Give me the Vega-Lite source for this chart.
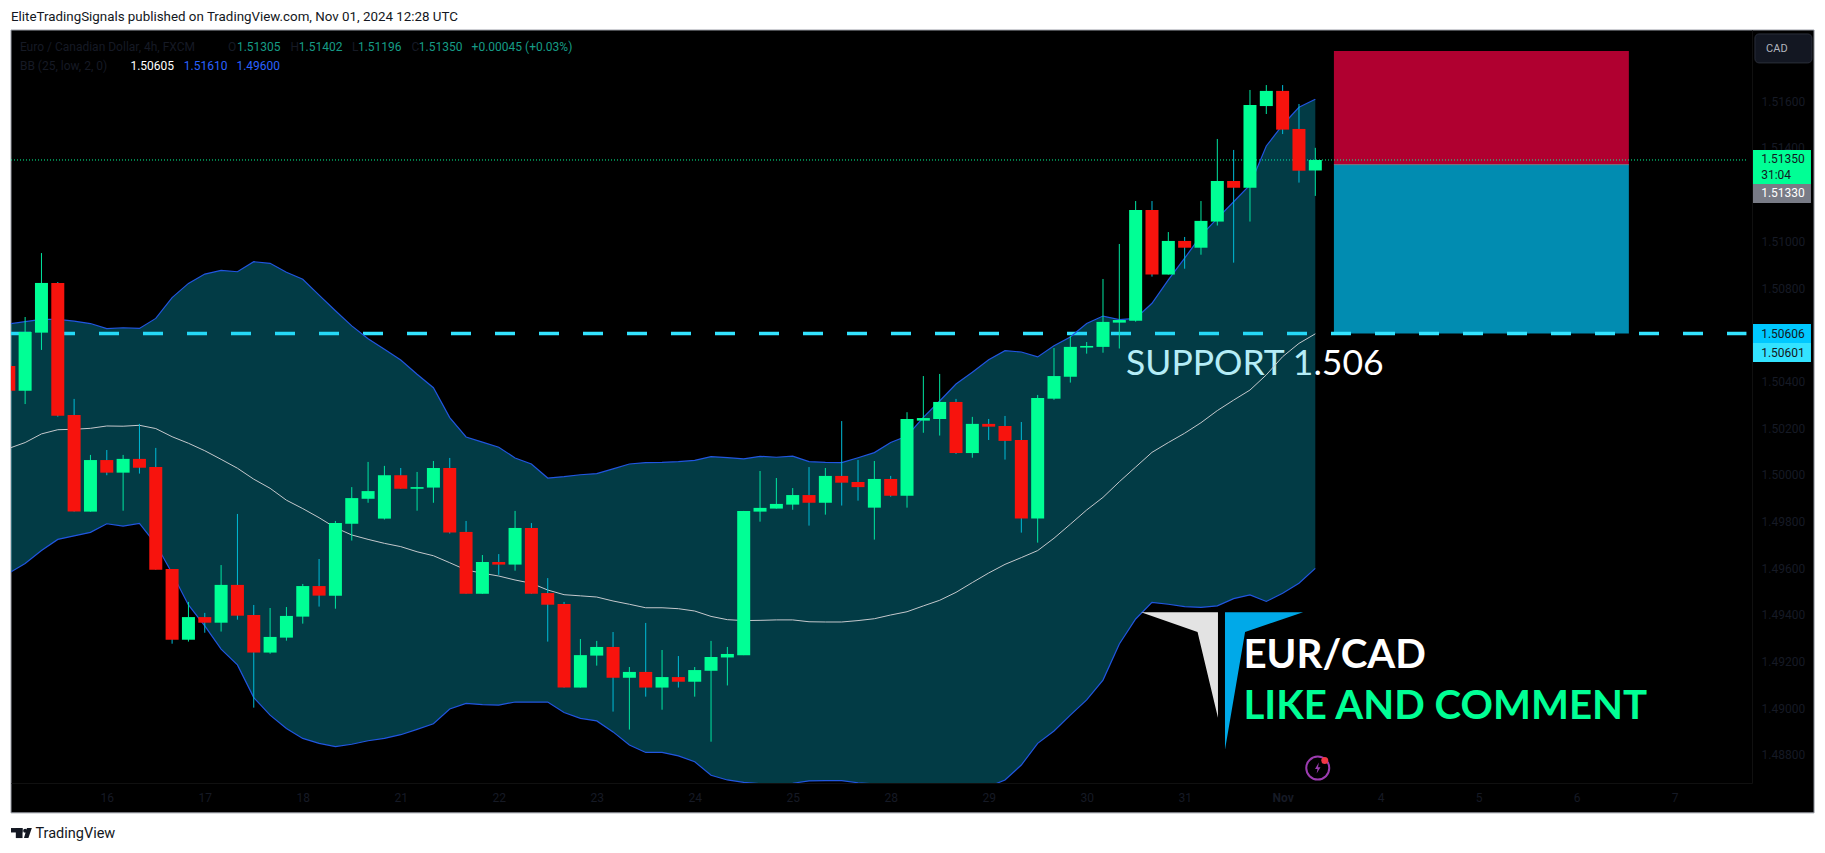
{"$schema":"https://vega.github.io/schema/vega-lite/v6.json","width":1741,"height":753,"autosize":{"type":"none"},"padding":{"left":11,"top":30,"right":73,"bottom":70},"background":"#ffffff","config":{"view":{"stroke":null},"axis":{"title":null,"grid":false,"ticks":false,"domain":true,"domainColor":"#101010","labelColor":"#161a25","labelFont":"Roboto","labelFontSize":12,"labelPadding":9,"labelFlush":false,"labelOverlap":false,"labelBound":false}},
"datasets":{"candles":[
{"i":0,"open":1.50467,"close":1.50361,"high":1.50467,"low":1.50361,"dir":"down","upper":1.50647,"basis":1.50114,"lower":1.49579},
{"i":1,"open":1.50361,"close":1.50613,"high":1.50677,"low":1.50304,"dir":"up","upper":1.50657,"basis":1.50139,"lower":1.49621},
{"i":2,"open":1.50610,"close":1.50823,"high":1.50951,"low":1.50536,"dir":"up","upper":1.50667,"basis":1.50176,"lower":1.49676},
{"i":3,"open":1.50823,"close":1.50254,"high":1.50827,"low":1.50250,"dir":"down","upper":1.50667,"basis":1.50194,"lower":1.49724},
{"i":4,"open":1.50257,"close":1.49843,"high":1.50326,"low":1.49843,"dir":"down","upper":1.50659,"basis":1.50196,"lower":1.49739},
{"i":5,"open":1.49843,"close":1.50064,"high":1.50086,"low":1.49843,"dir":"up","upper":1.50649,"basis":1.50200,"lower":1.49754},
{"i":6,"open":1.50064,"close":1.50010,"high":1.50107,"low":1.49999,"dir":"down","upper":1.50627,"basis":1.50210,"lower":1.49791},
{"i":7,"open":1.50010,"close":1.50069,"high":1.50086,"low":1.49847,"dir":"up","upper":1.50631,"basis":1.50209,"lower":1.49781},
{"i":8,"open":1.50069,"close":1.50031,"high":1.50219,"low":1.50006,"dir":"down","upper":1.50628,"basis":1.50213,"lower":1.49793},
{"i":9,"open":1.50034,"close":1.49594,"high":1.50116,"low":1.49594,"dir":"down","upper":1.50671,"basis":1.50199,"lower":1.49704},
{"i":10,"open":1.49597,"close":1.49294,"high":1.49597,"low":1.49277,"dir":"down","upper":1.50760,"basis":1.50164,"lower":1.49579},
{"i":11,"open":1.49294,"close":1.49391,"high":1.49456,"low":1.49286,"dir":"up","upper":1.50821,"basis":1.50136,"lower":1.49443},
{"i":12,"open":1.49391,"close":1.49367,"high":1.49409,"low":1.49324,"dir":"down","upper":1.50861,"basis":1.50104,"lower":1.49353},
{"i":13,"open":1.49367,"close":1.49529,"high":1.49614,"low":1.49329,"dir":"up","upper":1.50877,"basis":1.50067,"lower":1.49254},
{"i":14,"open":1.49529,"close":1.49397,"high":1.49833,"low":1.49380,"dir":"down","upper":1.50871,"basis":1.50029,"lower":1.49186},
{"i":15,"open":1.49400,"close":1.49239,"high":1.49443,"low":1.49003,"dir":"down","upper":1.50914,"basis":1.49982,"lower":1.49046},
{"i":16,"open":1.49239,"close":1.49306,"high":1.49430,"low":1.49234,"dir":"up","upper":1.50907,"basis":1.49943,"lower":1.48971},
{"i":17,"open":1.49303,"close":1.49396,"high":1.49434,"low":1.49290,"dir":"up","upper":1.50869,"basis":1.49892,"lower":1.48914},
{"i":18,"open":1.49393,"close":1.49524,"high":1.49533,"low":1.49363,"dir":"up","upper":1.50839,"basis":1.49856,"lower":1.48871},
{"i":19,"open":1.49524,"close":1.49483,"high":1.49640,"low":1.49436,"dir":"down","upper":1.50771,"basis":1.49817,"lower":1.48850},
{"i":20,"open":1.49483,"close":1.49794,"high":1.49803,"low":1.49427,"dir":"up","upper":1.50704,"basis":1.49774,"lower":1.48836},
{"i":21,"open":1.49791,"close":1.49901,"high":1.49948,"low":1.49719,"dir":"up","upper":1.50639,"basis":1.49743,"lower":1.48846},
{"i":22,"open":1.49898,"close":1.49931,"high":1.50056,"low":1.49881,"dir":"up","upper":1.50584,"basis":1.49724,"lower":1.48861},
{"i":23,"open":1.49813,"close":1.49999,"high":1.50039,"low":1.49809,"dir":"up","upper":1.50539,"basis":1.49707,"lower":1.48871},
{"i":24,"open":1.49999,"close":1.49941,"high":1.50030,"low":1.49941,"dir":"down","upper":1.50493,"basis":1.49693,"lower":1.48887},
{"i":25,"open":1.49941,"close":1.49948,"high":1.50013,"low":1.49847,"dir":"up","upper":1.50432,"basis":1.49671,"lower":1.48910},
{"i":26,"open":1.49946,"close":1.50030,"high":1.50060,"low":1.49881,"dir":"up","upper":1.50374,"basis":1.49654,"lower":1.48934},
{"i":27,"open":1.50030,"close":1.49753,"high":1.50073,"low":1.49749,"dir":"down","upper":1.50246,"basis":1.49624,"lower":1.48997},
{"i":28,"open":1.49756,"close":1.49491,"high":1.49803,"low":1.49491,"dir":"down","upper":1.50163,"basis":1.49593,"lower":1.49021},
{"i":29,"open":1.49491,"close":1.49627,"high":1.49657,"low":1.49491,"dir":"up","upper":1.50141,"basis":1.49579,"lower":1.49016},
{"i":30,"open":1.49627,"close":1.49616,"high":1.49661,"low":1.49572,"dir":"down","upper":1.50119,"basis":1.49567,"lower":1.49014},
{"i":31,"open":1.49616,"close":1.49773,"high":1.49846,"low":1.49590,"dir":"up","upper":1.50073,"basis":1.49550,"lower":1.49027},
{"i":32,"open":1.49773,"close":1.49491,"high":1.49794,"low":1.49491,"dir":"down","upper":1.50047,"basis":1.49536,"lower":1.49027},
{"i":33,"open":1.49494,"close":1.49444,"high":1.49558,"low":1.49286,"dir":"down","upper":1.49987,"basis":1.49507,"lower":1.49027},
{"i":34,"open":1.49447,"close":1.49089,"high":1.49456,"low":1.49089,"dir":"down","upper":1.49993,"basis":1.49487,"lower":1.48982},
{"i":35,"open":1.49089,"close":1.49228,"high":1.49297,"low":1.49089,"dir":"up","upper":1.50001,"basis":1.49482,"lower":1.48957},
{"i":36,"open":1.49226,"close":1.49263,"high":1.49289,"low":1.49183,"dir":"up","upper":1.50006,"basis":1.49477,"lower":1.48946},
{"i":37,"open":1.49263,"close":1.49131,"high":1.49327,"low":1.48986,"dir":"down","upper":1.50026,"basis":1.49460,"lower":1.48899},
{"i":38,"open":1.49131,"close":1.49156,"high":1.49177,"low":1.48909,"dir":"up","upper":1.50047,"basis":1.49446,"lower":1.48843},
{"i":39,"open":1.49156,"close":1.49089,"high":1.49366,"low":1.49050,"dir":"down","upper":1.50053,"basis":1.49431,"lower":1.48811},
{"i":40,"open":1.49089,"close":1.49134,"high":1.49250,"low":1.48994,"dir":"up","upper":1.50054,"basis":1.49431,"lower":1.48811},
{"i":41,"open":1.49134,"close":1.49114,"high":1.49224,"low":1.49089,"dir":"down","upper":1.50057,"basis":1.49427,"lower":1.48796},
{"i":42,"open":1.49114,"close":1.49164,"high":1.49177,"low":1.49050,"dir":"up","upper":1.50063,"basis":1.49417,"lower":1.48771},
{"i":43,"open":1.49161,"close":1.49220,"high":1.49289,"low":1.48857,"dir":"up","upper":1.50079,"basis":1.49394,"lower":1.48713},
{"i":44,"open":1.49218,"close":1.49233,"high":1.49263,"low":1.49098,"dir":"up","upper":1.50074,"basis":1.49380,"lower":1.48693},
{"i":45,"open":1.49228,"close":1.49846,"high":1.49846,"low":1.49228,"dir":"up","upper":1.50069,"basis":1.49376,"lower":1.48683},
{"i":46,"open":1.49843,"close":1.49859,"high":1.50017,"low":1.49800,"dir":"up","upper":1.50080,"basis":1.49377,"lower":1.48677},
{"i":47,"open":1.49856,"close":1.49876,"high":1.49987,"low":1.49856,"dir":"up","upper":1.50076,"basis":1.49379,"lower":1.48671},
{"i":48,"open":1.49873,"close":1.49914,"high":1.49944,"low":1.49851,"dir":"up","upper":1.50081,"basis":1.49379,"lower":1.48679},
{"i":49,"open":1.49914,"close":1.49881,"high":1.50034,"low":1.49783,"dir":"down","upper":1.50057,"basis":1.49371,"lower":1.48689},
{"i":50,"open":1.49881,"close":1.49996,"high":1.50030,"low":1.49830,"dir":"up","upper":1.50054,"basis":1.49370,"lower":1.48690},
{"i":51,"open":1.49996,"close":1.49967,"high":1.50231,"low":1.49869,"dir":"down","upper":1.50053,"basis":1.49370,"lower":1.48690},
{"i":52,"open":1.49970,"close":1.49948,"high":1.50064,"low":1.49890,"dir":"down","upper":1.50074,"basis":1.49376,"lower":1.48681},
{"i":53,"open":1.49860,"close":1.49983,"high":1.50060,"low":1.49723,"dir":"up","upper":1.50096,"basis":1.49384,"lower":1.48676},
{"i":54,"open":1.49983,"close":1.49911,"high":1.49996,"low":1.49907,"dir":"down","upper":1.50139,"basis":1.49400,"lower":1.48664},
{"i":55,"open":1.49911,"close":1.50240,"high":1.50269,"low":1.49860,"dir":"up","upper":1.50167,"basis":1.49414,"lower":1.48657},
{"i":56,"open":1.50233,"close":1.50244,"high":1.50424,"low":1.50181,"dir":"up","upper":1.50247,"basis":1.49439,"lower":1.48650},
{"i":57,"open":1.50240,"close":1.50313,"high":1.50433,"low":1.50169,"dir":"up","upper":1.50317,"basis":1.49463,"lower":1.48643},
{"i":58,"open":1.50313,"close":1.50094,"high":1.50326,"low":1.50090,"dir":"down","upper":1.50390,"basis":1.49497,"lower":1.48643},
{"i":59,"open":1.50094,"close":1.50219,"high":1.50249,"low":1.50074,"dir":"up","upper":1.50440,"basis":1.49539,"lower":1.48650},
{"i":60,"open":1.50219,"close":1.50207,"high":1.50240,"low":1.50150,"dir":"down","upper":1.50494,"basis":1.49580,"lower":1.48664},
{"i":61,"open":1.50210,"close":1.50146,"high":1.50253,"low":1.50066,"dir":"down","upper":1.50533,"basis":1.49617,"lower":1.48693},
{"i":62,"open":1.50150,"close":1.49813,"high":1.50227,"low":1.49753,"dir":"down","upper":1.50527,"basis":1.49646,"lower":1.48757},
{"i":63,"open":1.49813,"close":1.50330,"high":1.50343,"low":1.49710,"dir":"up","upper":1.50506,"basis":1.49676,"lower":1.48850},
{"i":64,"open":1.50327,"close":1.50424,"high":1.50544,"low":1.50322,"dir":"up","upper":1.50554,"basis":1.49729,"lower":1.48903},
{"i":65,"open":1.50421,"close":1.50549,"high":1.50596,"low":1.50396,"dir":"up","upper":1.50591,"basis":1.49789,"lower":1.48971},
{"i":66,"open":1.50546,"close":1.50553,"high":1.50570,"low":1.50520,"dir":"up","upper":1.50649,"basis":1.49850,"lower":1.49036},
{"i":67,"open":1.50549,"close":1.50656,"high":1.50840,"low":1.50524,"dir":"up","upper":1.50681,"basis":1.49904,"lower":1.49121},
{"i":68,"open":1.50653,"close":1.50664,"high":1.50990,"low":1.50542,"dir":"up","upper":1.50666,"basis":1.49971,"lower":1.49276},
{"i":69,"open":1.50661,"close":1.51136,"high":1.51174,"low":1.50657,"dir":"up","upper":1.50671,"basis":1.50034,"lower":1.49383},
{"i":70,"open":1.51136,"close":1.50859,"high":1.51174,"low":1.50850,"dir":"down","upper":1.50736,"basis":1.50097,"lower":1.49454},
{"i":71,"open":1.50859,"close":1.51003,"high":1.51041,"low":1.50859,"dir":"up","upper":1.50836,"basis":1.50139,"lower":1.49446},
{"i":72,"open":1.51003,"close":1.50974,"high":1.51020,"low":1.50884,"dir":"down","upper":1.50929,"basis":1.50179,"lower":1.49436},
{"i":73,"open":1.50974,"close":1.51089,"high":1.51174,"low":1.50944,"dir":"up","upper":1.51026,"basis":1.50224,"lower":1.49433},
{"i":74,"open":1.51086,"close":1.51260,"high":1.51440,"low":1.51069,"dir":"up","upper":1.51100,"basis":1.50276,"lower":1.49439},
{"i":75,"open":1.51260,"close":1.51231,"high":1.51393,"low":1.50910,"dir":"down","upper":1.51171,"basis":1.50321,"lower":1.49470},
{"i":76,"open":1.51231,"close":1.51586,"high":1.51650,"low":1.51086,"dir":"up","upper":1.51243,"basis":1.50364,"lower":1.49486},
{"i":77,"open":1.51581,"close":1.51646,"high":1.51671,"low":1.51547,"dir":"up","upper":1.51410,"basis":1.50429,"lower":1.49458},
{"i":78,"open":1.51646,"close":1.51480,"high":1.51671,"low":1.51461,"dir":"down","upper":1.51500,"basis":1.50507,"lower":1.49493},
{"i":79,"open":1.51483,"close":1.51304,"high":1.51590,"low":1.51253,"dir":"down","upper":1.51576,"basis":1.50564,"lower":1.49536},
{"i":80,"open":1.51305,"close":1.51350,"high":1.51402,"low":1.51196,"dir":"up","upper":1.51610,"basis":1.50605,"lower":1.49600}
]},
"encoding":{
"x":{"field":"i","type":"quantitative","scale":{"domain":[0.135,106.74],"nice":false,"zero":false,"padding":0},"axis":{"zindex":1,"values":[6,12,18,24,30,36,42,48,54,60,66,72,78,84,90,96,102],"labelExpr":"({'6':'16','12':'17','18':'18','24':'21','30':'22','36':'23','42':'24','48':'25','54':'28','60':'29','66':'30','72':'31','78':'Nov','84':'4','90':'5','96':'6','102':'7'})[datum.value]","labelFontWeight":{"condition":{"test":"datum.value==78","value":"bold"},"value":"normal"}}},
"y":{"field":"p","type":"quantitative","scale":{"domain":[1.4868,1.51907],"nice":false,"zero":false,"padding":0},"axis":{"zindex":1,"orient":"right","labelAlign":"left","values":[1.488,1.49,1.492,1.494,1.496,1.498,1.5,1.502,1.504,1.508,1.51,1.516],"format":".5f"}}
},
"resolve":{"scale":{"color":"independent"}},
"layer":[
{"data":{"values":[{"i":0.135,"i2":110.54,"p":1.51907,"p2":1.48552}]},"mark":{"type":"rect","fill":"#000000","stroke":"#9a9da6","strokeWidth":1},"encoding":{"x2":{"field":"i2"},"y2":{"field":"p2"}}},
{"data":{"values":[{"i":81.14,"i2":99.2,"p":1.51817,"p2":1.5133}]},"mark":{"type":"rect","fill":"#b00030"},"encoding":{"x2":{"field":"i2"},"y2":{"field":"p2"}}},
{"data":{"values":[{"i":81.14,"i2":99.2,"p":1.5133,"p2":1.50606}]},"mark":{"type":"rect","fill":"#018cb1"},"encoding":{"x2":{"field":"i2"},"y2":{"field":"p2"}}},
{"data":{"values":[{"i":81.14,"i2":99.2,"p":1.5133}]},"mark":{"type":"rule","stroke":"#787b86","strokeWidth":1},"encoding":{"x2":{"field":"i2"}}},
{"data":{"values":[{"i":0.135,"i2":106.4,"p":1.5135}]},"mark":{"type":"rule","stroke":"#00ff95","strokeWidth":1,"strokeDash":[1,2]},"encoding":{"x2":{"field":"i2"}}},
{"data":{"values":[{"i":0.135,"i2":106.4,"p":1.50606}]},"mark":{"type":"rule","stroke":"#33e3ff","strokeWidth":3.5,"strokeDash":[20,24]},"encoding":{"x2":{"field":"i2"}}},
{"data":{"values":[{"i":68.41,"p":1.50429,"label":"SUPPORT 1.506"}]},"mark":{"type":"text","align":"left","baseline":"alphabetic","font":"Lato","fontSize":35.5,"fill":"#ffffff"},"encoding":{"text":{"field":"label"}}},
{"data":{"name":"candles"},"mark":{"type":"area","fill":"#07c5e6","opacity":0.3,"clip":true},"encoding":{"y":{"field":"upper","type":"quantitative","scale":{"domain":[1.4868,1.51907],"nice":false,"zero":false,"padding":0},"axis":{"zindex":1,"orient":"right","labelAlign":"left","values":[1.488,1.49,1.492,1.494,1.496,1.498,1.5,1.502,1.504,1.508,1.51,1.516],"format":".5f"}},"y2":{"field":"lower"}}},
{"data":{"name":"candles"},"mark":{"type":"line","stroke":"#c5c8cc","strokeWidth":1,"clip":true},"encoding":{"y":{"field":"basis","type":"quantitative","scale":{"domain":[1.4868,1.51907],"nice":false,"zero":false,"padding":0},"axis":{"zindex":1,"orient":"right","labelAlign":"left","values":[1.488,1.49,1.492,1.494,1.496,1.498,1.5,1.502,1.504,1.508,1.51,1.516],"format":".5f"}}}},
{"data":{"name":"candles"},"mark":{"type":"line","stroke":"#2156e0","strokeWidth":1.2,"clip":true},"encoding":{"y":{"field":"upper","type":"quantitative","scale":{"domain":[1.4868,1.51907],"nice":false,"zero":false,"padding":0},"axis":{"zindex":1,"orient":"right","labelAlign":"left","values":[1.488,1.49,1.492,1.494,1.496,1.498,1.5,1.502,1.504,1.508,1.51,1.516],"format":".5f"}}}},
{"data":{"name":"candles"},"mark":{"type":"line","stroke":"#2156e0","strokeWidth":1.2,"clip":true},"encoding":{"y":{"field":"lower","type":"quantitative","scale":{"domain":[1.4868,1.51907],"nice":false,"zero":false,"padding":0},"axis":{"zindex":1,"orient":"right","labelAlign":"left","values":[1.488,1.49,1.492,1.494,1.496,1.498,1.5,1.502,1.504,1.508,1.51,1.516],"format":".5f"}}}},
{"data":{"name":"candles"},"mark":{"type":"rule","strokeWidth":1,"clip":true},"encoding":{"y":{"field":"high","type":"quantitative","scale":{"domain":[1.4868,1.51907],"nice":false,"zero":false,"padding":0},"axis":{"zindex":1,"orient":"right","labelAlign":"left","values":[1.488,1.49,1.492,1.494,1.496,1.498,1.5,1.502,1.504,1.508,1.51,1.516],"format":".5f"}},"y2":{"field":"low"},"color":{"field":"dir","type":"nominal","scale":{"domain":["up","down"],"range":["#00e6a0","#00bcd8"]},"legend":null}}},
{"data":{"name":"candles"},"mark":{"type":"bar","orient":"vertical","size":13,"clip":true},"encoding":{"y":{"field":"open","type":"quantitative","scale":{"domain":[1.4868,1.51907],"nice":false,"zero":false,"padding":0},"axis":{"zindex":1,"orient":"right","labelAlign":"left","values":[1.488,1.49,1.492,1.494,1.496,1.498,1.5,1.502,1.504,1.508,1.51,1.516],"format":".5f"}},"y2":{"field":"close"},"color":{"field":"dir","type":"nominal","scale":{"domain":["up","down"],"range":["#00ff95","#f7130d"]},"legend":null}}},
{"data":{"values":[{"i":69.33,"p":1.49412,"p2":1.49412},{"i":72.79,"p":1.49412,"p2":1.49327},{"i":74.04,"p":1.49412,"p2":1.4896}]},"mark":{"type":"area","fill":"#e3e3e3"},"encoding":{"y2":{"field":"p2"}}},
{"data":{"values":[{"i":74.47,"p":1.49412,"p2":1.48822},{"i":75.7,"p":1.49412,"p2":1.49327},{"i":79.25,"p":1.49412,"p2":1.49412}]},"mark":{"type":"area","fill":"#00a9e8"},"encoding":{"y2":{"field":"p2"}}},
{"data":{"values":[{"i":75.6,"p":1.49173,"label":"EUR/CAD"}]},"mark":{"type":"text","align":"left","baseline":"alphabetic","font":"Lato","fontSize":40.3,"fontWeight":"bold","fill":"#ffffff"},"encoding":{"text":{"field":"label"}}},
{"data":{"values":[{"i":75.6,"p":1.48953,"label":"LIKE AND COMMENT"}]},"mark":{"type":"text","align":"left","baseline":"alphabetic","font":"Lato","fontSize":40.2,"fontWeight":"bold","fill":"#00ff95"},"encoding":{"text":{"field":"label"}}},
{"data":{"values":[{"i":80.15,"p":1.48744}]},"mark":{"type":"point","shape":"circle","size":529,"filled":false,"stroke":"#9c3cb0","strokeWidth":2,"opacity":1}},
{"data":{"values":[{"i":80.15,"p":1.48744}]},"mark":{"type":"point","shape":"M0.2,-1L-0.5,0.15L-0.05,0.15L-0.2,1L0.5,-0.15L0.05,-0.15Z","size":120,"filled":true,"fill":"#9c3cb0","opacity":1}},
{"data":{"values":[{"i":80.58,"p":1.48776}]},"mark":{"type":"point","shape":"circle","size":49,"filled":true,"fill":"#f23645","opacity":1}},
{"data":{"values":[{"i":0.68,"p":1.51836,"label":"Euro / Canadian Dollar, 4h, FXCM"},{"i":13.42,"p":1.51836,"label":"O"},{"i":17.25,"p":1.51836,"label":"H"},{"i":21.01,"p":1.51836,"label":"L"},{"i":24.66,"p":1.51836,"label":"C"},{"i":0.68,"p":1.51754,"label":"BB (25, low, 2, 0)"}]},"mark":{"type":"text","align":"left","baseline":"middle","font":"Roboto","fontSize":12,"fill":"#161a25"},"encoding":{"text":{"field":"label"}}},
{"data":{"values":[{"i":13.97,"p":1.51836,"label":"1.51305"},{"i":17.76,"p":1.51836,"label":"1.51402"},{"i":21.38,"p":1.51836,"label":"1.51196"},{"i":25.11,"p":1.51836,"label":"1.51350"},{"i":28.34,"p":1.51836,"label":"+0.00045 (+0.03%)"}]},"mark":{"type":"text","align":"left","baseline":"middle","font":"Roboto","fontSize":12,"fill":"#169c86"},"encoding":{"text":{"field":"label"}}},
{"data":{"values":[{"i":7.45,"p":1.51754,"label":"1.50605"}]},"mark":{"type":"text","align":"left","baseline":"middle","font":"Roboto","fontSize":12,"fill":"#ffffff"},"encoding":{"text":{"field":"label"}}},
{"data":{"values":[{"i":10.72,"p":1.51754,"label":"1.51610"},{"i":13.94,"p":1.51754,"label":"1.49600"}]},"mark":{"type":"text","align":"left","baseline":"middle","font":"Roboto","fontSize":12,"fill":"#2962ff"},"encoding":{"text":{"field":"label"}}},
{"data":{"values":[{"i":107.3,"p":1.514,"label":"1.51400"}]},"mark":{"type":"text","align":"left","baseline":"middle","font":"Roboto","fontSize":12,"fill":"#161a25"},"encoding":{"text":{"field":"label"}}},
{"data":{"values":[{"i":106.74,"i2":110.35,"p":1.51393,"p2":1.51247}]},"mark":{"type":"rect","fill":"#00ff95"},"encoding":{"x2":{"field":"i2"},"y2":{"field":"p2"}}},
{"data":{"values":[{"i":106.74,"i2":110.35,"p":1.51247,"p2":1.51166}]},"mark":{"type":"rect","fill":"#787b86"},"encoding":{"x2":{"field":"i2"},"y2":{"field":"p2"}}},
{"data":{"values":[{"i":106.74,"i2":110.35,"p":1.50647,"p2":1.50566}]},"mark":{"type":"rect","fill":"#00c8ff"},"encoding":{"x2":{"field":"i2"},"y2":{"field":"p2"}}},
{"data":{"values":[{"i":106.74,"i2":110.35,"p":1.50566,"p2":1.50484}]},"mark":{"type":"rect","fill":"#33e3ff"},"encoding":{"x2":{"field":"i2"},"y2":{"field":"p2"}}},
{"data":{"values":[{"i":106.92,"i2":110.41,"p":1.5189,"p2":1.51766}]},"mark":{"type":"rect","fill":"#131722","stroke":"#2a2e39","cornerRadius":4},"encoding":{"x2":{"field":"i2"},"y2":{"field":"p2"}}},
{"data":{"values":[{"i":107.3,"p":1.51353,"label":"1.51350"},{"i":107.3,"p":1.51287,"label":"31:04"},{"i":107.3,"p":1.50606,"label":"1.50606"},{"i":107.3,"p":1.50524,"label":"1.50601"}]},"mark":{"type":"text","align":"left","baseline":"middle","font":"Roboto","fontSize":12,"fill":"#131722"},"encoding":{"text":{"field":"label"}}},
{"data":{"values":[{"i":107.3,"p":1.51207,"label":"1.51330"}]},"mark":{"type":"text","align":"left","baseline":"middle","font":"Roboto","fontSize":12,"fill":"#ffffff"},"encoding":{"text":{"field":"label"}}},
{"data":{"values":[{"i":107.6,"p":1.51827,"label":"CAD"}]},"mark":{"type":"text","align":"left","baseline":"middle","font":"Roboto","fontSize":11,"fill":"#b2b5be"},"encoding":{"text":{"field":"label"}}},
{"data":{"values":[{"i":0.135,"p":1.51947,"label":"EliteTradingSignals published on TradingView.com, Nov 01, 2024 12:28 UTC"}]},"mark":{"type":"text","align":"left","baseline":"alphabetic","font":"Roboto","fontSize":13.35,"fill":"#131722"},"encoding":{"text":{"field":"label"}}},
{"data":{"values":[{"i":1.63,"p":1.48444,"label":"TradingView"}]},"mark":{"type":"text","align":"left","baseline":"alphabetic","font":"Roboto","fontSize":14.5,"fill":"#131722"},"encoding":{"text":{"field":"label"}}},
{"data":{"values":[{"i":0.135,"i2":0.84,"p":1.48487,"p2":1.48468},{"i":0.43,"i2":0.84,"p":1.48487,"p2":1.48444}]},"mark":{"type":"rect","fill":"#131722"},"encoding":{"x2":{"field":"i2"},"y2":{"field":"p2"}}},
{"data":{"values":[{"i":0.93,"p":1.48444,"p2":1.48444},{"i":1.11,"p":1.48487,"p2":1.48444},{"i":1.2,"p":1.48487,"p2":1.48444},{"i":1.41,"p":1.48487,"p2":1.48487}]},"mark":{"type":"area","fill":"#131722"},"encoding":{"y2":{"field":"p2"}}},
{"data":{"values":[{"i":1.0,"p":1.48475}]},"mark":{"type":"point","shape":"circle","size":16,"filled":true,"fill":"#131722","opacity":1}}
]}
